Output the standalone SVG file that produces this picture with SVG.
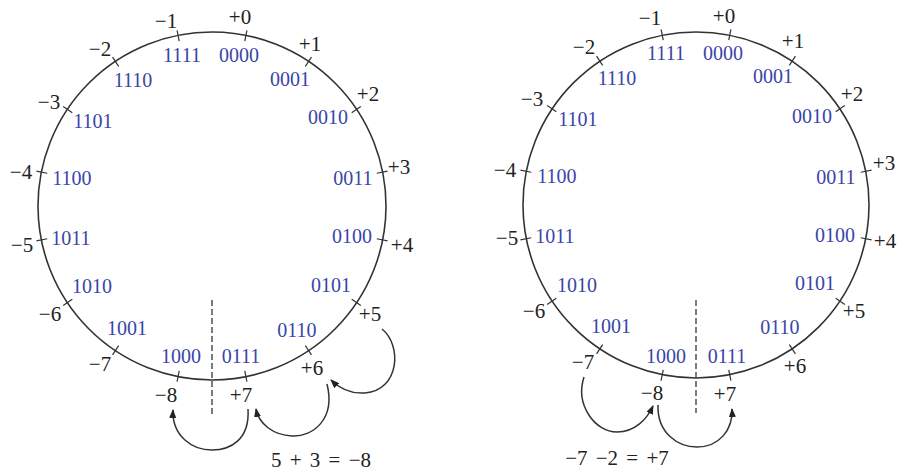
<svg xmlns="http://www.w3.org/2000/svg" width="898" height="472" viewBox="0 0 898 472">
<defs>
<style>
.ring{fill:none;stroke:#333;stroke-width:1.6}
.tick{stroke:#333;stroke-width:1.2}
.dash{stroke:#444;stroke-width:1.4;stroke-dasharray:6 3}
.num{font-family:"Liberation Serif","Times New Roman",serif;font-size:21px;fill:#222;text-anchor:middle}
.bin{font-family:"Liberation Serif","Times New Roman",serif;font-size:20px;fill:#3a45a8;text-anchor:middle}
.eq{font-family:"Liberation Serif","Times New Roman",serif;font-size:21px;fill:#222;text-anchor:middle;word-spacing:3px}
.arc{fill:none;stroke:#333;stroke-width:1.5;marker-end:url(#ah)}
</style>
<marker id="ah" markerUnits="userSpaceOnUse" markerWidth="9" markerHeight="7" refX="8" refY="3.5" orient="auto">
<path d="M0,0 L9,3.5 L0,7 z" fill="#222"/>
</marker>
<g id="ticks">
<line class="tick" x1="0" y1="-168" x2="0" y2="-179" transform="rotate(11.25)"/>
<line class="tick" x1="0" y1="-168" x2="0" y2="-179" transform="rotate(33.75)"/>
<line class="tick" x1="0" y1="-168" x2="0" y2="-179" transform="rotate(56.25)"/>
<line class="tick" x1="0" y1="-168" x2="0" y2="-179" transform="rotate(78.75)"/>
<line class="tick" x1="0" y1="-168" x2="0" y2="-179" transform="rotate(101.25)"/>
<line class="tick" x1="0" y1="-168" x2="0" y2="-179" transform="rotate(123.75)"/>
<line class="tick" x1="0" y1="-168" x2="0" y2="-179" transform="rotate(146.25)"/>
<line class="tick" x1="0" y1="-168" x2="0" y2="-179" transform="rotate(168.75)"/>
<line class="tick" x1="0" y1="-168" x2="0" y2="-179" transform="rotate(191.25)"/>
<line class="tick" x1="0" y1="-168" x2="0" y2="-179" transform="rotate(213.75)"/>
<line class="tick" x1="0" y1="-168" x2="0" y2="-179" transform="rotate(236.25)"/>
<line class="tick" x1="0" y1="-168" x2="0" y2="-179" transform="rotate(258.75)"/>
<line class="tick" x1="0" y1="-168" x2="0" y2="-179" transform="rotate(281.25)"/>
<line class="tick" x1="0" y1="-168" x2="0" y2="-179" transform="rotate(303.75)"/>
<line class="tick" x1="0" y1="-168" x2="0" y2="-179" transform="rotate(326.25)"/>
<line class="tick" x1="0" y1="-168" x2="0" y2="-179" transform="rotate(348.75)"/>
</g>
</defs>
<rect width="898" height="472" fill="#fff"/>

<g id="wheel-left">
<circle class="ring" cx="212" cy="206" r="174"/>
<use href="#ticks" transform="translate(212,206)"/>
<line class="dash" x1="212" y1="300" x2="212" y2="417"/>
<g id="left-values">
<text class="num" x="166" y="28">−1</text>
<text class="num" x="240" y="24">+0</text>
<text class="num" x="310" y="51">+1</text>
<text class="num" x="368" y="101">+2</text>
<text class="num" x="399" y="174">+3</text>
<text class="num" x="402" y="252">+4</text>
<text class="num" x="370" y="321">+5</text>
<text class="num" x="312" y="375">+6</text>
<text class="num" x="241" y="402">+7</text>
<text class="num" x="166" y="402">−8</text>
<text class="num" x="100" y="371">−7</text>
<text class="num" x="50" y="321">−6</text>
<text class="num" x="22" y="252">−5</text>
<text class="num" x="21" y="179">−4</text>
<text class="num" x="49" y="109">−3</text>
<text class="num" x="100" y="56">−2</text>
</g>
<g id="left-codes">
<text class="bin" x="182" y="62">1111</text>
<text class="bin" x="239" y="62">0000</text>
<text class="bin" x="290" y="86">0001</text>
<text class="bin" x="328" y="124">0010</text>
<text class="bin" x="353" y="185">0011</text>
<text class="bin" x="352" y="243">0100</text>
<text class="bin" x="331" y="292">0101</text>
<text class="bin" x="297" y="337">0110</text>
<text class="bin" x="241" y="363">0111</text>
<text class="bin" x="181" y="363">1000</text>
<text class="bin" x="127" y="335">1001</text>
<text class="bin" x="92" y="293">1010</text>
<text class="bin" x="71" y="245">1011</text>
<text class="bin" x="72" y="185">1100</text>
<text class="bin" x="93" y="128">1101</text>
<text class="bin" x="133" y="87">1110</text>
</g>
<text id="left-equation" class="eq" x="321" y="467">5 + 3 = −8</text>
</g>

<g id="wheel-right">
<circle class="ring" cx="696" cy="205" r="173"/>
<use href="#ticks" transform="translate(696,205)"/>
<line class="dash" x1="696" y1="300" x2="696" y2="413"/>
<g id="right-values">
<text class="num" x="650" y="25">−1</text>
<text class="num" x="724" y="23">+0</text>
<text class="num" x="793" y="48">+1</text>
<text class="num" x="852" y="101">+2</text>
<text class="num" x="884" y="170">+3</text>
<text class="num" x="885" y="248">+4</text>
<text class="num" x="854" y="318">+5</text>
<text class="num" x="795" y="373">+6</text>
<text class="num" x="725" y="401">+7</text>
<text class="num" x="652" y="400">−8</text>
<text class="num" x="583" y="369">−7</text>
<text class="num" x="534" y="318">−6</text>
<text class="num" x="507" y="245">−5</text>
<text class="num" x="505" y="177">−4</text>
<text class="num" x="532" y="106">−3</text>
<text class="num" x="584" y="54">−2</text>
</g>
<g id="right-codes">
<text class="bin" x="666" y="60">1111</text>
<text class="bin" x="723" y="60">0000</text>
<text class="bin" x="773" y="83">0001</text>
<text class="bin" x="812" y="123">0010</text>
<text class="bin" x="836" y="184">0011</text>
<text class="bin" x="835" y="242">0100</text>
<text class="bin" x="815" y="290">0101</text>
<text class="bin" x="780" y="334">0110</text>
<text class="bin" x="727" y="363">0111</text>
<text class="bin" x="666" y="363">1000</text>
<text class="bin" x="611" y="333">1001</text>
<text class="bin" x="577" y="292">1010</text>
<text class="bin" x="555" y="243">1011</text>
<text class="bin" x="557" y="183">1100</text>
<text class="bin" x="578" y="126">1101</text>
<text class="bin" x="617" y="85">1110</text>
</g>
<text id="right-equation" class="eq" x="617" y="465">−7 −2 = +7</text>
</g>

<g id="connectors">
<path class="arc" d="M382,329 C402,345 400,390 365,393 C350,394 338,387 331,380"/>
<path class="arc" d="M327,384 C336,420 312,437 292,436 C273,435 259,424 256,409"/>
<path class="arc" d="M248,409 C250,440 230,450 212,450 C192,450 172,436 173,410"/>
<path class="arc" d="M584,377 C575,405 595,432 617,432 C635,432 647,419 653,406"/>
<path class="arc" d="M658,405 C657,433 678,447 697,447 C719,447 733,430 732,409"/>
</g>
</svg>
